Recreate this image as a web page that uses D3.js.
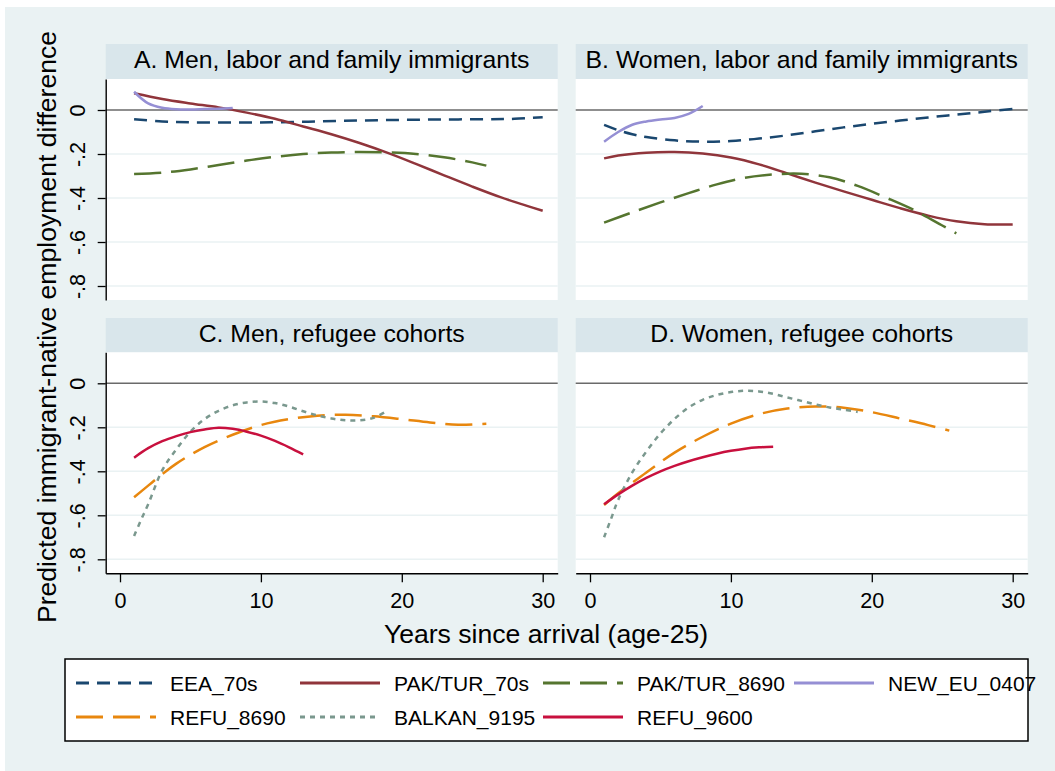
<!DOCTYPE html>
<html>
<head>
<meta charset="utf-8">
<script src="https://cdn.jsdelivr.net/npm/d3@7"></script>
<style>
  body { margin: 0; background: #fff; }
  svg { display: block; font-family: "Liberation Sans", Arial, sans-serif; }
</style>
</head>
<body>
<div id="chart"></div>
<script>
// ---- data ----
const panelTitles = [
  'A. Men, labor and family immigrants',
  'B. Women, labor and family immigrants',
  'C. Men, refugee cohorts',
  'D. Women, refugee cohorts'
];
const seriesNames = ['EEA_70s', 'PAK/TUR_70s', 'PAK/TUR_8690', 'NEW_EU_0407', 'REFU_8690', 'BALKAN_9195', 'REFU_9600'];
const xTicks = [0, 10, 20, 30];
const yTicks = [0, -0.2, -0.4, -0.6, -0.8];
const yTickLabels = ['0', '-.2', '-.4', '-.6', '-.8'];
const xTitle = 'Years since arrival (age-25)';
const yTitle = 'Predicted immigrant-native employment difference';

// A. men, labor and family
const menLabEEA = [[1, -0.042], [3, -0.052], [5, -0.056], [8, -0.057], [11, -0.056], [14, -0.052], [17, -0.048], [20, -0.045], [23, -0.043], [26, -0.042], [28, -0.04], [30, -0.033]];
const menLabPak70 = [[1, 0.076], [3, 0.05], [5, 0.03], [7, 0.012], [9, -0.012], [11, -0.04], [13, -0.075], [15, -0.11], [17, -0.15], [19, -0.195], [21, -0.245], [23, -0.297], [25, -0.348], [27, -0.396], [29, -0.438], [30, -0.458]];
const menLabPak8690 = [[1, -0.291], [3, -0.285], [5, -0.27], [7, -0.25], [9, -0.23], [11, -0.213], [13, -0.2], [15, -0.193], [17, -0.191], [19, -0.193], [21, -0.2], [23, -0.215], [25, -0.238], [26, -0.253]];
const menLabNewEU = [[1, 0.083], [2, 0.03], [3, 0.01], [4, 0.003], [5, 0.002], [6, 0.004], [7, 0.006], [8, 0.009]];

// B. women, labor and family
const womLabEEA = [[1, -0.068], [2, -0.092], [3, -0.11], [4, -0.123], [6, -0.138], [8, -0.144], [10, -0.141], [12, -0.13], [14, -0.115], [16, -0.097], [18, -0.079], [20, -0.063], [22, -0.048], [24, -0.034], [26, -0.021], [28, -0.008], [30, 0.005]];
const womLabPak70 = [[1, -0.22], [2, -0.207], [4, -0.194], [6, -0.191], [8, -0.198], [10, -0.216], [12, -0.247], [14, -0.288], [16, -0.33], [18, -0.37], [20, -0.408], [22, -0.446], [24, -0.48], [26, -0.506], [28, -0.519], [30, -0.52]];
const womLabPak8690 = [[1, -0.512], [3, -0.465], [5, -0.42], [7, -0.378], [9, -0.338], [11, -0.308], [13, -0.293], [15, -0.29], [17, -0.306], [19, -0.345], [21, -0.398], [23, -0.455], [25, -0.525], [26, -0.561]];
const womLabNewEU = [[1, -0.144], [2, -0.1], [3, -0.067], [4, -0.052], [5, -0.043], [6, -0.036], [7, -0.018], [8, 0.018]];

// C. men, refugees
const menRefRefu8690 = [[1, -0.518], [2, -0.465], [3, -0.413], [4, -0.365], [6, -0.29], [8, -0.234], [10, -0.19], [12, -0.163], [14, -0.147], [16, -0.143], [18, -0.15], [20, -0.163], [22, -0.178], [24, -0.188], [26, -0.184]];
const menRefBalkan = [[1, -0.694], [1.5, -0.62], [2, -0.55], [3, -0.395], [4, -0.3], [5, -0.22], [6, -0.163], [7, -0.125], [8, -0.1], [9, -0.087], [10, -0.083], [11, -0.09], [12, -0.106], [13, -0.127], [14, -0.146], [15, -0.16], [16, -0.168], [17, -0.168], [18, -0.157], [19, -0.124]];
const menRefRefu9600 = [[1, -0.338], [2, -0.295], [3, -0.263], [4, -0.24], [5, -0.222], [6, -0.21], [7, -0.202], [8, -0.207], [9, -0.22], [10, -0.238], [11, -0.262], [12, -0.291], [13, -0.323]];

// D. women, refugees
const womRefRefu8690 = [[1, -0.553], [2, -0.5], [3, -0.452], [4, -0.405], [6, -0.315], [8, -0.243], [10, -0.183], [12, -0.14], [14, -0.115], [16, -0.105], [18, -0.111], [20, -0.131], [22, -0.16], [24, -0.19], [25.5, -0.215]];
const womRefBalkan = [[1, -0.7], [1.5, -0.615], [2, -0.53], [3, -0.405], [4, -0.31], [5, -0.228], [6, -0.162], [7, -0.11], [8, -0.075], [9, -0.053], [10, -0.04], [11, -0.034], [12, -0.037], [13, -0.048], [14, -0.064], [15, -0.08], [16, -0.096], [17, -0.11], [18, -0.12], [19, -0.13]];
const womRefRefu9600 = [[1, -0.55], [2, -0.505], [3, -0.465], [4, -0.43], [5, -0.4], [6, -0.375], [7, -0.354], [8, -0.336], [9, -0.32], [10, -0.307], [11, -0.297], [12, -0.291], [13, -0.288]];

// ---- styles & layout ----
const WIDTH = 1055;
const HEIGHT = 771;
const BG = '#eaf2f3';
const STRIP = '#d9e6eb';
const FONT_TICK = 21.6;
const FONT_STRIP = 24.8;
const FONT_TITLE = 26.6;
const FONT_LEGEND = 21;

const seriesStyle = {
  'EEA_70s': { color: '#1a476f', dash: '13,8' },
  'PAK/TUR_70s': { color: '#90353b', dash: null },
  'PAK/TUR_8690': { color: '#55752f', dash: '27,10' },
  'NEW_EU_0407': { color: '#958fd4', dash: null },
  'REFU_8690': { color: '#e8870e', dash: '27,10' },
  'BALKAN_9195': { color: '#7a988e', dash: '5,5' },
  'REFU_9600': { color: '#c8103e', dash: null }
};

const panelSeries = [
  [['EEA_70s', menLabEEA], ['PAK/TUR_70s', menLabPak70], ['PAK/TUR_8690', menLabPak8690], ['NEW_EU_0407', menLabNewEU]],
  [['EEA_70s', womLabEEA], ['PAK/TUR_70s', womLabPak70], ['PAK/TUR_8690', womLabPak8690], ['NEW_EU_0407', womLabNewEU]],
  [['REFU_8690', menRefRefu8690], ['BALKAN_9195', menRefBalkan], ['REFU_9600', menRefRefu9600]],
  [['REFU_8690', womRefRefu8690], ['BALKAN_9195', womRefBalkan], ['REFU_9600', womRefRefu9600]]
];

const colX = [105.7, 575.7];
const plotW = 452;
const rowStrip = [44, 318];
const rowPlot = [79, 352.3];
const plotH = 221;

const xDomain = [-1.015, 31.065];
const yDomain = [-0.8636, 0.1409];

const svg = d3.select('#chart')
  .append('svg')
  .attr('width', WIDTH)
  .attr('height', HEIGHT)
  .attr('viewBox', `0 0 ${WIDTH} ${HEIGHT}`);

svg.append('rect')
  .attr('x', 5).attr('y', 7)
  .attr('width', WIDTH - 5).attr('height', HEIGHT - 7)
  .attr('fill', BG);

const line = d3.line().curve(d3.curveCatmullRom.alpha(0.5));

panelTitles.forEach((title, i) => {
  const col = i % 2;
  const row = Math.floor(i / 2);
  const x0 = colX[col];
  const top = rowPlot[row];

  const x = d3.scaleLinear().domain(xDomain).range([x0, x0 + plotW]);
  const y = d3.scaleLinear().domain(yDomain).range([top + plotH, top]);

  // strip
  svg.append('rect')
    .attr('x', x0).attr('y', rowStrip[row])
    .attr('width', plotW).attr('height', top - rowStrip[row])
    .attr('fill', STRIP);
  svg.append('text')
    .attr('x', x0 + plotW / 2)
    .attr('y', rowStrip[row] + 24)
    .attr('text-anchor', 'middle')
    .attr('font-size', FONT_STRIP)
    .attr('fill', '#000')
    .text(title);

  // plot region
  svg.append('rect')
    .attr('x', x0).attr('y', top)
    .attr('width', plotW).attr('height', plotH)
    .attr('fill', '#fff');

  const g = svg.append('g');

  // grid
  g.selectAll('line.grid')
    .data(yTicks.filter((d) => d !== 0))
    .join('line')
    .attr('class', 'grid')
    .attr('x1', x0).attr('x2', x0 + plotW)
    .attr('y1', (d) => y(d)).attr('y2', (d) => y(d))
    .attr('stroke', BG)
    .attr('stroke-width', 1.6);

  // zero reference line
  g.append('line')
    .attr('x1', x0).attr('x2', x0 + plotW)
    .attr('y1', y(0)).attr('y2', y(0))
    .attr('stroke', '#6a6a6a')
    .attr('stroke-width', 1.6);

  // series
  panelSeries[i].forEach(([name, pts]) => {
    const st = seriesStyle[name];
    g.append('path')
      .attr('d', line(pts.map((p) => [x(p[0]), y(p[1])])))
      .attr('fill', 'none')
      .attr('stroke', st.color)
      .attr('stroke-width', 2.5)
      .attr('stroke-dasharray', st.dash);
  });

  // y axis on the left column
  if (col === 0) {
    const ya = svg.append('g')
      .attr('transform', `translate(${x0},0)`)
      .call(d3.axisLeft(y).tickValues(yTicks).tickSize(8).tickSizeOuter(0)
        .tickFormat((d, k) => yTickLabels[k]));
    ya.select('.domain').attr('stroke', '#000').attr('stroke-width', 1.4);
    ya.selectAll('.tick line').attr('stroke', '#000').attr('stroke-width', 1.3);
    ya.selectAll('.tick text')
      .attr('transform', 'rotate(-90)')
      .attr('x', 0)
      .attr('y', -21)
      .attr('dy', 0)
      .attr('text-anchor', 'middle')
      .attr('font-size', FONT_TICK)
      .attr('fill', '#000');
    ya.attr('font-family', null);
  }

  // x axis on the bottom row
  if (row === 1) {
    const xa = svg.append('g')
      .attr('transform', `translate(0,${top + plotH})`)
      .call(d3.axisBottom(x).tickValues(xTicks).tickSize(9).tickSizeOuter(0));
    xa.select('.domain').attr('stroke', '#000').attr('stroke-width', 1.4);
    xa.selectAll('.tick line').attr('stroke', '#000').attr('stroke-width', 1.3);
    xa.selectAll('.tick text')
      .attr('y', 35)
      .attr('dy', 0)
      .attr('font-size', FONT_TICK)
      .attr('fill', '#000');
    xa.attr('font-family', null);
  }
});

// axis titles
svg.append('text')
  .attr('x', 546).attr('y', 643)
  .attr('text-anchor', 'middle')
  .attr('font-size', FONT_TITLE)
  .text(xTitle);

svg.append('text')
  .attr('transform', 'translate(55.5,327) rotate(-90)')
  .attr('text-anchor', 'middle')
  .attr('font-size', FONT_TITLE)
  .text(yTitle);

// legend
const legendCols = [76, 300, 543, 794];
const legendRows = [683, 717];

svg.append('rect')
  .attr('x', 65).attr('y', 659)
  .attr('width', 963).attr('height', 82)
  .attr('fill', '#fff')
  .attr('stroke', '#000')
  .attr('stroke-width', 1.5);

const items = svg.selectAll('g.legend-item')
  .data(seriesNames)
  .join('g')
  .attr('class', 'legend-item')
  .attr('transform', (d, k) => `translate(${legendCols[k % 4]},${legendRows[Math.floor(k / 4)]})`);

items.append('line')
  .attr('x1', 0).attr('x2', 80)
  .attr('stroke', (d) => seriesStyle[d].color)
  .attr('stroke-width', 2.8)
  .attr('stroke-dasharray', (d) => seriesStyle[d].dash);

items.append('text')
  .attr('x', 94)
  .attr('y', 7.5)
  .attr('font-size', FONT_LEGEND)
  .text((d) => d);
</script>
</body>
</html>
